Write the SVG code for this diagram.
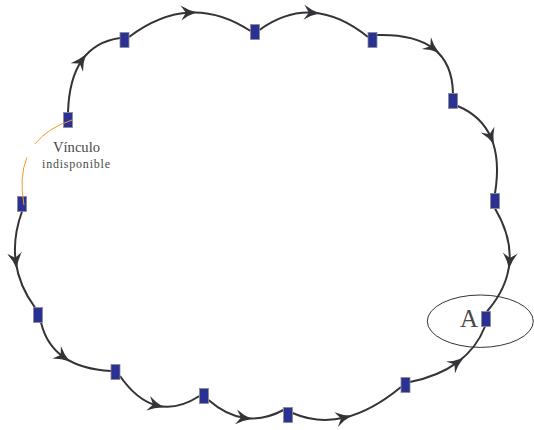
<svg xmlns="http://www.w3.org/2000/svg" width="534" height="430" viewBox="0 0 534 430">
  <style>
    .link { fill: none; stroke: #333338; stroke-width: 2; marker-mid: url(#arrow); }
    .broken { fill: none; stroke: #f39a2b; stroke-width: 1; }
    .node rect { fill: #2b3192; stroke: #8a8a96; stroke-width: 0.8; }
    .label { font-family: "Liberation Serif", "Times New Roman", serif; fill: #4a4a4a; }
  </style>
  <defs>
    <marker id="arrow" viewBox="-11 -9 20 18" markerWidth="20" markerHeight="18" refX="0" refY="0" orient="auto" markerUnits="userSpaceOnUse">
      <path d="M7,0 Q-2,-2.5 -9,-7.5 L-4,0 L-9,7.5 Q-2,2.5 7,0 Z" fill="#333338"/>
    </marker>
  </defs>

  <rect width="534" height="430" fill="#ffffff"/>

  <!-- region around node A -->
  <g id="zone-A">
    <ellipse cx="480.3" cy="321.2" rx="53" ry="26.2" fill="none" stroke="#333338" stroke-width="1"/>
    <text class="label" x="460" y="327" font-size="25">A</text>
  </g>

  <!-- links: each curve is split at its midpoint so the arrow sits there -->
  <g id="connectors">
    <path class="link" d="M68,112.5 Q69,78.75 82,60.1 Q95,41.5 120,38"/>
    <path class="link" d="M129,37 Q159.5,14 189.9,12.5 Q220.25,11 250.5,31"/>
    <path class="link" d="M259.5,30 Q285.75,11 312.9,12.75 Q340,14.5 368,37"/>
    <path class="link" d="M377,35 Q414.5,34 433.5,48.6 Q452.5,63.25 453,93.5"/>
    <path class="link" d="M457.5,106 Q481.75,116 491.1,137.9 Q500.5,159.75 495,193.5"/>
    <path class="link" d="M495,208.5 Q511.5,236.25 509.5,262 Q507.5,287.75 487,311.5"/>
    <path class="link" d="M410,382 Q439,376 457.75,362.1 Q476.5,348.25 485,326.5"/>
    <path class="link" d="M292.5,413 Q317.75,424 344.9,417.5 Q372,411 401,387"/>
    <path class="link" d="M208.5,400 Q226.25,415.5 245,418 Q263.75,420.5 283.5,410"/>
    <path class="link" d="M120,376 Q137,400.5 156.9,405.5 Q176.75,410.5 199.5,396"/>
    <path class="link" d="M41,322.5 Q46.5,345.25 64,357.4 Q81.5,369.5 111,371"/>
    <path class="link" d="M22,211.5 Q12.5,237.75 15.75,261.75 Q19,285.75 35,307.5"/>
  </g>

  <g id="n1" class="node"><rect x="120" y="32.5" width="9" height="15"/></g>
  <g id="n2" class="node"><rect x="250.5" y="24.5" width="9" height="15"/></g>
  <g id="n3" class="node"><rect x="368" y="32.5" width="9" height="15"/></g>
  <g id="n4" class="node"><rect x="448.5" y="93.5" width="9" height="15"/></g>
  <g id="n5" class="node"><rect x="490.5" y="193.5" width="9" height="15"/></g>
  <g id="n6" class="node"><rect x="481.5" y="311.5" width="9" height="15"/></g>
  <g id="n7" class="node"><rect x="401" y="377.5" width="9" height="15"/></g>
  <g id="n8" class="node"><rect x="283.5" y="407.5" width="9" height="15"/></g>
  <g id="n9" class="node"><rect x="199.5" y="388.5" width="9" height="15"/></g>
  <g id="n10" class="node"><rect x="111" y="364.5" width="9" height="15"/></g>
  <g id="n11" class="node"><rect x="33.5" y="307.5" width="9" height="15"/></g>
  <g id="n12" class="node"><rect x="17.5" y="196.5" width="9" height="15"/></g>
  <g id="n13" class="node"><rect x="63.5" y="112.5" width="9" height="15"/></g>

  <!-- unavailable link between n13 and n12, drawn with a break -->
  <g id="broken-link">
    <path class="broken" d="M72,120 Q47.4,128.2 34.9,144"/>
    <path class="broken" d="M27,157.4 Q18.84,177.05 24,205"/>
    <text class="label" x="53" y="152" font-size="15" textLength="47" lengthAdjust="spacingAndGlyphs">Vínculo</text>
    <text class="label" x="42" y="168" font-size="12" textLength="68" lengthAdjust="spacing">indisponible</text>
  </g>
</svg>
